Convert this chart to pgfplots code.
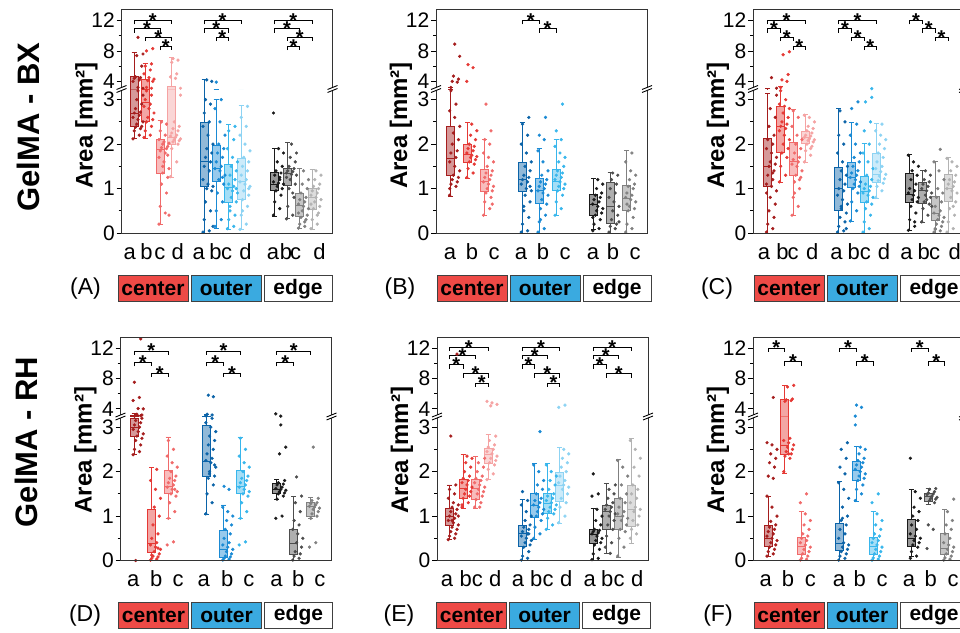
\documentclass[border=0pt]{standalone}
\usepackage{fontspec}
\setmainfont{Liberation Sans}
\usepackage{pgfplots}
\pgfplotsset{compat=1.18}
\usepgfplotslibrary{statistics}

\definecolor{cr1}{HTML}{A51D1D}
\definecolor{cr2}{HTML}{E53935}
\definecolor{cr3}{HTML}{F06A6A}
\definecolor{cr4}{HTML}{F5A3A3}
\definecolor{cb1}{HTML}{0B63A8}
\definecolor{cb2}{HTML}{1A8AD4}
\definecolor{cb3}{HTML}{38B6EC}
\definecolor{cb4}{HTML}{8DD3F3}
\definecolor{cg1}{HTML}{1A1A1A}
\definecolor{cg2}{HTML}{4D4D4D}
\definecolor{cg3}{HTML}{808080}
\definecolor{cg4}{HTML}{B3B3B3}
\definecolor{lred}{HTML}{EE4A46}
\definecolor{lblue}{HTML}{3AAAE0}

\pgfplotsset{
 pts/.style={},
 base/.style={scale only axis, width=211pt, xmin=0, xmax=211,
   axis line style={draw=none}, tick align=outside, ytick pos=left, xtick pos=bottom,
   major tick length=5pt, minor tick length=3pt, tick style={black, line width=0.9pt},
   major x tick style={draw=none},
   ticklabel style={font=\fontsize{21}{21}\selectfont},
   yticklabel style={inner sep=1.5pt},
   xticklabel style={font=\fontsize{22}{22}\selectfont, text height=16pt, inner sep=0pt, yshift=-5pt},
   /pgf/number format/assume math mode=true,
   boxplot/draw direction=y}
}
\tikzset{leg/.style={draw=black!75, line width=1pt, minimum height=26pt, inner sep=0pt,
   font=\bfseries\fontsize{21}{21}\selectfont}}

% box: position, colour, lower whisker, lower quartile, median, upper quartile, upper whisker
\newcommand{\bx}[7]{\addplot[forget plot, draw=#2, fill=#2, fill opacity=0.45, line width=0.8pt,
  boxplot prepared={draw position=#1, lower whisker=#3, lower quartile=#4, median=#5,
  upper quartile=#6, upper whisker=#7, box extend=8, whisker extend=5, draw direction=y}] coordinates {};}
% points beside a box
\newcommand{\pts}[3]{\addplot[forget plot, pts, only marks, mark=*, mark size=1.45pt, color=#2]
  table[header=false, row sep=\\, y index=0, x expr={#1-1+1.25*mod(5*\coordindex,9)}] {#3};}
% significance bracket
\newcommand{\sig}[3]{\draw[line width=0.9pt] (axis cs:#1,{#3-0.5}) -- (axis cs:#1,#3) -- (axis cs:#2,#3) -- (axis cs:#2,{#3-0.5});
  \node[font=\bfseries\fontsize{20}{20}\selectfont, inner sep=0pt] at (axis cs:{(#1+#2)/2},#3) {*};}
% axis break mark
\newcommand{\brk}[2]{\begin{scope}[shift={(#1pt,-#2pt)}]
  \fill[white] (-5pt,-3.5pt) -- (5pt,0.5pt) -- (5pt,3.5pt) -- (-5pt,-0.5pt) -- cycle;
  \draw[line width=0.9pt] (-5pt,-3.5pt) -- (5pt,0.5pt) (-5pt,-0.5pt) -- (5pt,3.5pt);
  \end{scope}}
% panel: x left, y top, data, brackets, tick positions, tick labels
\newcommand{\panel}[6]{%
\pgfmathsetmacro\yb{#2+79.5}%
\pgfmathsetmacro\ybot{#2+223.5}%
\pgfmathsetmacro\xr{#1+211}%
\begin{axis}[base, at={(#1pt,-#2pt)}, anchor=north west, height=79.5pt,
  ymin=3.0, ymax=13.45, ytick={4,8,12}, minor ytick={6,10}, xtick=\empty,
  pts/.style={restrict y to domain=3.02:30}]
#3
#4
\end{axis}
\begin{axis}[base, at={(#1pt,-\yb pt)}, anchor=north west, height=144pt,
  ymin=0, ymax=3.24, ytick={0,1,2,3}, minor ytick={0.5,1.5,2.5},
  xtick={#5}, xticklabels={#6},
  pts/.style={restrict y to domain=-1:3.235}]
#3
\end{axis}
\draw[line width=1pt, black!80] (#1pt,-#2pt) rectangle (\xr pt,-\ybot pt);
\brk{#1}{\yb}\brk{\xr}{\yb}}
% legend row: letter x, legend left x, y centre, letter
\newcommand{\legrow}[4]{%
 \node[font=\fontsize{23}{23}\selectfont] at (#1pt,-#3pt) {(#4)};
 \node[leg, fill=lred, minimum width=70pt] at ({#2pt+35pt},-#3pt) {center};
 \node[leg, fill=lblue, minimum width=70pt] at ({#2pt+108pt},-#3pt) {outer};
 \node[leg, fill=white, minimum width=68pt] at ({#2pt+180pt},-#3pt) {edge};}

%%%%%%%%%%%%%%%% panel A
\def\dataA{%
\bx{12.5}{cr1}{2.12}{2.4}{2.7}{4.67}{7.8}
\pts{12.5}{cr1}{2.12\\2.2\\2.3\\2.35\\2.38\\2.4\\2.45\\2.5\\2.55\\2.6\\2.65\\2.7\\2.72\\2.8\\2.9\\3.0\\3.1\\3.2\\4.0\\4.2\\4.4\\4.5\\4.6\\6.0\\7.4\\7.6\\9.8\\}
\bx{23.5}{cr2}{2.12}{2.51}{2.93}{4.2}{6.4}
\pts{23.5}{cr2}{2.15\\2.2\\2.3\\2.4\\2.5\\2.55\\2.6\\2.7\\2.8\\2.85\\2.9\\3.0\\3.1\\3.2\\4.0\\4.1\\4.3\\4.5\\5.0\\5.5\\6.0\\6.3\\8.0\\8.3\\}
\bx{38.5}{cr3}{0.19}{1.33}{1.89}{2.1}{2.53}
\pts{38.5}{cr3}{0.2\\0.45\\0.6\\0.9\\1.1\\1.25\\1.35\\1.45\\1.6\\1.7\\1.8\\1.85\\1.9\\1.92\\1.95\\2.0\\2.02\\2.05\\2.1\\2.2\\2.3\\2.45\\2.5\\1.75\\1.5\\0.4\\}
\bx{50}{cr4}{1.25}{2.0}{2.15}{3.4}{7.15}
\pts{50}{cr4}{1.27\\1.6\\1.9\\2.0\\2.05\\2.08\\2.1\\2.12\\2.15\\2.18\\2.2\\2.25\\2.3\\2.35\\2.4\\2.5\\3.1\\4.4\\4.6\\5.0\\6.5\\6.8\\7.0\\}
\bx{82.5}{cb1}{0}{1.05}{1.6}{2.48}{4.3}
\pts{82.5}{cb1}{0.02\\0.05\\0.3\\0.5\\0.7\\0.95\\1.0\\1.05\\1.1\\1.2\\1.4\\1.5\\1.6\\1.7\\1.8\\1.9\\2.0\\2.2\\2.4\\2.5\\2.7\\2.9\\3.0\\4.0\\4.2\\0.15\\}
\bx{94.5}{cb2}{0.11}{1.16}{1.46}{1.97}{3.0}
\pts{94.5}{cb2}{0.15\\0.3\\0.5\\0.7\\0.9\\1.1\\1.2\\1.3\\1.4\\1.45\\1.5\\1.6\\1.7\\1.8\\1.9\\2.0\\2.2\\2.5\\2.8\\3.0\\3.9\\1.25\\}
\bx{107}{cb3}{0.08}{0.68}{1.03}{1.55}{2.45}
\pts{107}{cb3}{0.1\\0.15\\0.3\\0.4\\0.6\\0.7\\0.8\\0.9\\0.95\\1.0\\1.05\\1.1\\1.2\\1.3\\1.4\\1.5\\1.6\\1.7\\1.9\\2.1\\2.3\\2.4\\0.5\\1.0\\}
\bx{119.5}{cb4}{0.08}{0.75}{1.15}{1.67}{2.87}
\pts{119.5}{cb4}{0.08\\0.2\\0.4\\0.6\\0.75\\0.85\\0.95\\1.05\\1.1\\1.15\\1.2\\1.3\\1.4\\1.5\\1.6\\1.7\\1.85\\2.0\\2.2\\2.4\\2.6\\2.85\\0.5\\1.0\\}
\bx{153}{cg1}{0.38}{0.95}{1.1}{1.37}{1.9}
\pts{153}{cg1}{0.4\\0.55\\0.7\\0.85\\0.95\\1.0\\1.05\\1.1\\1.12\\1.15\\1.2\\1.3\\1.35\\1.4\\1.5\\1.6\\1.8\\1.9\\2.7\\1.25\\}
\bx{166}{cg2}{0.32}{1.07}{1.35}{1.46}{2.03}
\pts{166}{cg2}{0.32\\0.4\\0.6\\0.8\\1.0\\1.1\\1.2\\1.3\\1.32\\1.35\\1.38\\1.4\\1.45\\1.5\\1.6\\1.7\\1.8\\2.0\\1.25\\0.9\\}
\bx{178}{cg3}{0.11}{0.38}{0.62}{0.9}{1.46}
\pts{178}{cg3}{0.11\\0.15\\0.2\\0.3\\0.35\\0.4\\0.5\\0.55\\0.6\\0.65\\0.7\\0.75\\0.8\\0.9\\1.0\\1.1\\1.2\\1.4\\0.45\\0.25\\}
\bx{190.5}{cg4}{0.09}{0.53}{0.8}{1.01}{1.43}
\pts{190.5}{cg4}{0.1\\0.2\\0.3\\0.45\\0.55\\0.6\\0.7\\0.75\\0.8\\0.85\\0.9\\0.95\\1.0\\1.05\\1.1\\1.2\\1.3\\1.4\\0.65\\0.4\\}
}
\def\sigA{\sig{12.5}{50}{12}\sig{12.5}{38.5}{10.9}\sig{23.5}{50}{9.8}\sig{38.5}{50}{8.6}
\sig{82.5}{119.5}{12}\sig{82.5}{107}{10.9}\sig{94.5}{107}{9.8}
\sig{153}{190.5}{12}\sig{153}{178}{10.9}\sig{166}{190.5}{9.8}\sig{166}{178}{8.6}}

%%%%%%%%%%%%%%%% panel B
\def\dataB{%
\bx{14.7}{cr1}{0.83}{1.3}{1.67}{2.39}{3.23}
\pts{14.7}{cr1}{0.85\\1.05\\1.1\\1.15\\1.2\\1.25\\1.3\\1.4\\1.5\\1.6\\1.7\\1.8\\1.85\\2.0\\2.1\\2.25\\2.4\\2.6\\2.75\\2.9\\3.2\\3.9\\4.0\\4.3\\4.7\\7.3\\8.9\\1.0\\}
\bx{31.8}{cr2}{1.22}{1.58}{1.76}{2.0}{2.48}
\pts{31.8}{cr2}{1.25\\1.35\\1.45\\1.55\\1.6\\1.65\\1.7\\1.72\\1.75\\1.8\\1.85\\1.9\\1.95\\2.0\\2.1\\2.2\\2.3\\2.45\\4.0\\5.8\\6.2\\}
\bx{48.5}{cr3}{0.39}{0.94}{1.16}{1.42}{2.1}
\pts{48.5}{cr3}{0.4\\0.55\\0.7\\0.8\\0.9\\0.95\\1.0\\1.05\\1.1\\1.15\\1.2\\1.25\\1.3\\1.35\\1.4\\1.5\\1.6\\1.7\\1.8\\2.0\\2.1\\2.3\\2.9\\0.65\\}
\bx{86.3}{cb1}{0}{0.94}{1.2}{1.58}{2.48}
\pts{86.3}{cb1}{0.02\\0.05\\0.2\\0.35\\0.5\\0.7\\0.85\\0.95\\1.0\\1.1\\1.15\\1.2\\1.25\\1.3\\1.4\\1.5\\1.6\\1.8\\2.0\\2.2\\2.45\\2.6\\0.6\\1.05\\}
\bx{103}{cb2}{0}{0.66}{0.96}{1.22}{1.9}
\pts{103}{cb2}{0.02\\0.1\\0.25\\0.4\\0.55\\0.65\\0.75\\0.85\\0.9\\0.95\\1.0\\1.05\\1.1\\1.15\\1.2\\1.3\\1.4\\1.6\\1.85\\2.1\\2.2\\2.6\\0.3\\}
\bx{120}{cb3}{0.39}{0.96}{1.16}{1.42}{2.1}
\pts{120}{cb3}{0.4\\0.55\\0.7\\0.85\\0.95\\1.0\\1.05\\1.1\\1.15\\1.2\\1.25\\1.3\\1.35\\1.4\\1.5\\1.6\\1.7\\1.8\\1.95\\2.1\\2.3\\2.9\\}
\bx{157.8}{cg1}{0.07}{0.39}{0.65}{0.86}{1.22}
\pts{157.8}{cg1}{0.05\\0.1\\0.2\\0.3\\0.4\\0.45\\0.5\\0.55\\0.6\\0.65\\0.7\\0.75\\0.8\\0.85\\0.9\\1.0\\1.1\\1.2\\0.35\\}
\bx{174}{cg2}{0}{0.21}{0.6}{1.14}{1.37}
\pts{174}{cg2}{0.02\\0.1\\0.15\\0.2\\0.3\\0.4\\0.5\\0.6\\0.7\\0.8\\0.9\\1.0\\1.1\\1.2\\1.3\\1.35\\0.25\\}
\bx{190.7}{cg3}{0}{0.51}{0.77}{1.07}{1.85}
\pts{190.7}{cg3}{0.02\\0.1\\0.2\\0.35\\0.5\\0.55\\0.6\\0.7\\0.75\\0.8\\0.85\\0.9\\1.0\\1.05\\1.1\\1.2\\1.3\\1.4\\1.6\\1.8\\0.65\\}
}
\def\sigB{\sig{86.3}{103}{12}\sig{103}{120}{10.9}}

%%%%%%%%%%%%%%%% panel C
\def\dataC{%
\bx{14.5}{cr1}{0}{1.04}{1.5}{2.12}{3.13}
\pts{14.5}{cr1}{0.02\\0.1\\0.2\\0.35\\0.5\\0.65\\0.8\\0.95\\1.05\\1.1\\1.2\\1.3\\1.4\\1.5\\1.55\\1.6\\1.7\\1.8\\1.9\\2.0\\2.1\\2.2\\2.4\\2.6\\2.8\\3.1\\4.5\\0.9\\1.35\\}
\bx{27.4}{cr2}{1.14}{1.82}{2.4}{2.84}{3.3}
\pts{27.4}{cr2}{1.15\\1.3\\1.5\\1.7\\1.8\\1.9\\2.0\\2.1\\2.2\\2.3\\2.35\\2.4\\2.45\\2.5\\2.6\\2.7\\2.8\\2.85\\2.9\\3.0\\3.2\\4.0\\4.2\\4.9\\7.5\\7.9\\}
\bx{40}{cr3}{0.39}{1.3}{1.6}{2.04}{2.78}
\pts{40}{cr3}{0.4\\0.6\\0.8\\1.0\\1.15\\1.25\\1.3\\1.4\\1.5\\1.55\\1.6\\1.65\\1.7\\1.8\\1.9\\2.0\\2.1\\2.2\\2.4\\2.6\\2.75\\1.2\\0.9\\}
\bx{52.4}{cr4}{1.59}{2.01}{2.14}{2.29}{2.66}
\pts{52.4}{cr4}{1.6\\1.75\\1.85\\1.95\\2.0\\2.05\\2.08\\2.1\\2.12\\2.15\\2.18\\2.2\\2.25\\2.3\\2.35\\2.4\\2.5\\2.6\\2.65\\1.9\\}
\bx{85.5}{cb1}{0}{0.51}{1.0}{1.48}{2.81}
\pts{85.5}{cb1}{0.02\\0.05\\0.15\\0.25\\0.35\\0.45\\0.55\\0.65\\0.75\\0.85\\0.95\\1.0\\1.1\\1.2\\1.3\\1.4\\1.5\\1.6\\1.8\\2.0\\2.2\\2.5\\2.75\\0.1\\0.6\\}
\bx{98.4}{cb2}{0.26}{1.03}{1.26}{1.59}{2.48}
\pts{98.4}{cb2}{0.27\\0.5\\0.7\\0.9\\1.0\\1.05\\1.1\\1.15\\1.2\\1.25\\1.3\\1.35\\1.4\\1.5\\1.6\\1.7\\1.8\\2.0\\2.2\\2.45\\2.8\\2.95\\}
\bx{111}{cb3}{0}{0.68}{0.94}{1.28}{2.01}
\pts{111}{cb3}{0.02\\0.1\\0.25\\0.4\\0.55\\0.65\\0.7\\0.8\\0.85\\0.9\\0.95\\1.0\\1.05\\1.1\\1.2\\1.3\\1.45\\1.6\\1.8\\2.0\\2.3\\2.5\\2.95\\3.05\\}
\bx{123.7}{cb4}{0.77}{1.14}{1.31}{1.78}{2.46}
\pts{123.7}{cb4}{0.8\\0.95\\1.05\\1.12\\1.18\\1.22\\1.28\\1.32\\1.38\\1.45\\1.5\\1.6\\1.7\\1.8\\1.9\\2.0\\2.1\\2.2\\2.3\\2.45\\}
\bx{156.4}{cg1}{0.06}{0.68}{0.86}{1.34}{1.76}
\pts{156.4}{cg1}{0.06\\0.15\\0.3\\0.45\\0.6\\0.7\\0.75\\0.8\\0.85\\0.9\\0.95\\1.0\\1.1\\1.2\\1.3\\1.4\\1.5\\1.6\\1.75\\0.25\\}
\bx{169.7}{cg2}{0.24}{0.66}{0.95}{1.13}{1.41}
\pts{169.7}{cg2}{0.25\\0.4\\0.55\\0.65\\0.7\\0.8\\0.85\\0.9\\0.95\\1.0\\1.05\\1.1\\1.15\\1.2\\1.3\\1.4\\0.6\\0.75\\}
\bx{182}{cg3}{0}{0.28}{0.43}{0.83}{1.61}
\pts{182}{cg3}{0.02\\0.05\\0.1\\0.15\\0.2\\0.25\\0.3\\0.35\\0.4\\0.45\\0.5\\0.6\\0.7\\0.8\\0.9\\1.0\\1.2\\1.4\\1.6\\1.88\\0.08\\}
\bx{195}{cg4}{0}{0.7}{1.0}{1.31}{1.69}
\pts{195}{cg4}{0.02\\0.1\\0.25\\0.4\\0.55\\0.7\\0.8\\0.9\\0.95\\1.0\\1.05\\1.1\\1.15\\1.2\\1.3\\1.4\\1.5\\1.6\\1.68\\0.6\\}
}
\def\sigC{\sig{14.5}{52.4}{12}\sig{14.5}{27.4}{10.9}\sig{27.4}{40}{9.8}\sig{40}{52.4}{8.6}
\sig{85.5}{123.7}{12}\sig{85.5}{98.4}{10.9}\sig{98.4}{111}{9.8}\sig{111}{123.7}{8.6}
\sig{156.4}{169.7}{12}\sig{169.7}{182}{10.9}\sig{182}{195}{9.8}}

%%%%%%%%%%%%%%%% panel D
\def\dataD{%
\bx{13.7}{cr1}{2.38}{2.8}{3.0}{3.19}{3.35}
\pts{13.7}{cr1}{2.38\\2.45\\2.5\\2.6\\2.7\\2.75\\2.8\\2.85\\2.9\\2.95\\3.0\\3.05\\3.1\\3.15\\3.2\\3.3\\4.0\\4.05\\5.1\\5.5\\7.5\\13.2\\0.0\\}
\bx{31}{cr2}{0}{0.18}{0.39}{1.16}{2.09}
\pts{31}{cr2}{0.01\\0.03\\0.05\\0.08\\0.1\\0.15\\0.2\\0.25\\0.3\\0.35\\0.4\\0.5\\0.6\\0.8\\1.0\\1.2\\1.4\\1.6\\1.8\\2.05\\0.12\\0.28\\}
\bx{47.7}{cr3}{0.94}{1.52}{1.67}{2.03}{2.78}
\pts{47.7}{cr3}{0.35\\0.42\\0.95\\1.1\\1.3\\1.45\\1.5\\1.55\\1.6\\1.65\\1.7\\1.75\\1.8\\1.85\\1.9\\2.0\\2.1\\2.2\\2.35\\2.5\\2.7\\1.6\\}
\bx{86.3}{cb1}{1.03}{1.89}{2.23}{3.03}{3.3}
\pts{86.3}{cb1}{1.05\\1.3\\1.5\\1.7\\1.85\\1.9\\2.0\\2.1\\2.2\\2.25\\2.3\\2.4\\2.5\\2.6\\2.7\\2.8\\2.9\\3.0\\3.1\\3.2\\3.3\\5.6\\5.8\\2.15\\1.95\\}
\bx{103.3}{cb2}{0}{0.075}{0.26}{0.68}{1.25}
\pts{103.3}{cb2}{0.01\\0.03\\0.05\\0.08\\0.1\\0.15\\0.2\\0.25\\0.3\\0.35\\0.4\\0.5\\0.6\\0.7\\0.8\\0.9\\1.0\\1.1\\1.2\\1.6\\1.67\\}
\bx{119.7}{cb3}{0.94}{1.52}{1.67}{2.03}{2.78}
\pts{119.7}{cb3}{0.35\\0.42\\0.95\\1.1\\1.3\\1.45\\1.5\\1.55\\1.6\\1.65\\1.7\\1.75\\1.8\\1.85\\1.9\\2.0\\2.1\\2.2\\2.35\\2.5\\2.75\\}
\bx{156.3}{cg1}{1.37}{1.5}{1.6}{1.74}{1.83}
\pts{156.3}{cg1}{0.95\\1.0\\1.38\\1.45\\1.5\\1.52\\1.55\\1.58\\1.6\\1.62\\1.65\\1.7\\1.72\\1.75\\1.8\\2.4\\2.55\\3.05\\3.35\\}
\bx{173.3}{cg2}{0}{0.13}{0.38}{0.71}{1.44}
\pts{173.3}{cg2}{0.01\\0.05\\0.1\\0.15\\0.2\\0.3\\0.4\\0.5\\0.6\\0.7\\0.8\\0.9\\1.1\\1.3\\1.45\\1.88\\}
\bx{190}{cg3}{0.95}{1.0}{1.21}{1.3}{1.42}
\pts{190}{cg3}{0.3\\0.4\\0.95\\1.0\\1.05\\1.1\\1.15\\1.18\\1.2\\1.22\\1.25\\1.28\\1.3\\1.35\\1.4\\2.55\\}
}
\def\sigD{\sig{13.7}{47.7}{11.6}\sig{13.7}{31}{10.1}\sig{31}{47.7}{8.7}
\sig{86.3}{119.7}{11.6}\sig{86.3}{103.3}{10.1}\sig{103.3}{119.7}{8.7}
\sig{156.3}{190}{11.6}\sig{156.3}{173.3}{10.1}}

%%%%%%%%%%%%%%%% panel E
\def\dataE{%
\bx{12.3}{cr1}{0.47}{0.78}{1.0}{1.18}{1.7}
\pts{12.3}{cr1}{0.47\\0.5\\0.55\\0.6\\0.65\\0.7\\0.75\\0.8\\0.85\\0.9\\0.95\\1.0\\1.05\\1.1\\1.15\\1.2\\1.25\\1.3\\1.4\\1.5\\1.6\\1.7\\2.8\\11.2\\0.9\\1.0\\}
\bx{26}{cr2}{1.18}{1.4}{1.63}{1.83}{2.38}
\pts{26}{cr2}{1.2\\1.3\\1.4\\1.45\\1.5\\1.55\\1.6\\1.65\\1.7\\1.75\\1.8\\1.85\\1.9\\2.0\\2.1\\2.2\\2.3\\2.35\\1.25\\}
\bx{38.7}{cr3}{1.18}{1.37}{1.63}{1.82}{2.34}
\pts{38.7}{cr3}{1.2\\1.3\\1.37\\1.45\\1.5\\1.55\\1.6\\1.65\\1.7\\1.75\\1.8\\1.85\\1.9\\2.0\\2.1\\2.2\\2.3\\1.2\\}
\bx{51}{cr4}{1.82}{2.19}{2.38}{2.53}{2.83}
\pts{51}{cr4}{1.82\\1.95\\2.05\\2.15\\2.2\\2.25\\2.3\\2.35\\2.4\\2.45\\2.5\\2.55\\2.6\\2.7\\2.8\\4.4\\4.6\\4.8\\5.0\\}
\bx{85.3}{cb1}{0}{0.32}{0.62}{0.8}{1.37}
\pts{85.3}{cb1}{0.01\\0.05\\0.1\\0.2\\0.3\\0.35\\0.4\\0.45\\0.5\\0.55\\0.6\\0.65\\0.7\\0.75\\0.8\\0.9\\1.0\\1.1\\1.25\\1.35\\1.55\\0.6\\}
\bx{97.7}{cb2}{0.47}{0.97}{1.25}{1.52}{2.19}
\pts{97.7}{cb2}{0.5\\0.6\\0.75\\0.9\\1.0\\1.05\\1.1\\1.15\\1.2\\1.25\\1.3\\1.35\\1.4\\1.5\\1.6\\1.7\\1.8\\2.0\\2.15\\2.9\\}
\bx{110.3}{cb3}{0.69}{1.07}{1.29}{1.52}{2.18}
\pts{110.3}{cb3}{0.7\\0.8\\0.95\\1.05\\1.1\\1.15\\1.2\\1.25\\1.3\\1.35\\1.4\\1.45\\1.5\\1.6\\1.7\\1.8\\1.9\\2.0\\2.15\\}
\bx{122.7}{cb4}{0.84}{1.33}{1.68}{1.98}{2.55}
\pts{122.7}{cb4}{0.85\\1.0\\1.2\\1.3\\1.4\\1.5\\1.6\\1.65\\1.7\\1.75\\1.8\\1.9\\2.0\\2.1\\2.2\\2.3\\2.4\\2.5\\4.2\\4.5\\}
\bx{156}{cg1}{0}{0.39}{0.58}{0.69}{1.18}
\pts{156}{cg1}{0.02\\0.05\\0.15\\0.25\\0.35\\0.4\\0.45\\0.5\\0.55\\0.6\\0.62\\0.65\\0.68\\0.7\\0.8\\0.9\\1.0\\1.15\\1.45\\1.5\\1.95\\}
\bx{169.3}{cg2}{0.16}{0.69}{1.1}{1.25}{1.74}
\pts{169.3}{cg2}{0.3\\0.4\\0.55\\0.7\\0.8\\0.9\\1.0\\1.05\\1.1\\1.15\\1.2\\1.25\\1.3\\1.4\\1.5\\1.6\\1.7\\0.16\\}
\bx{181.7}{cg3}{0.08}{0.69}{0.99}{1.4}{2.27}
\pts{181.7}{cg3}{0.1\\0.3\\0.5\\0.65\\0.7\\0.8\\0.9\\0.95\\1.0\\1.05\\1.1\\1.2\\1.3\\1.4\\1.5\\1.7\\1.9\\2.1\\2.25\\}
\bx{194.3}{cg4}{0.39}{0.77}{1.14}{1.7}{2.75}
\pts{194.3}{cg4}{0.5\\0.6\\0.7\\0.8\\0.9\\1.0\\1.1\\1.15\\1.2\\1.3\\1.4\\1.5\\1.6\\1.7\\1.9\\2.1\\2.3\\2.5\\2.7\\}
}
\def\sigE{\sig{12.3}{51}{12.1}\sig{12.3}{38.7}{11.0}\sig{12.3}{26}{9.8}\sig{26}{51}{8.6}\sig{38.7}{51}{7.4}
\sig{85.3}{122.7}{12.1}\sig{85.3}{110.3}{11.0}\sig{85.3}{97.7}{9.8}\sig{97.7}{122.7}{8.6}\sig{110.3}{122.7}{7.4}
\sig{156}{194.3}{12.1}\sig{156}{181.7}{11.0}\sig{156}{169.3}{9.8}\sig{169.3}{194.3}{8.6}}

%%%%%%%%%%%%%%%% panel F
\def\dataF{%
\bx{15}{cr1}{0.09}{0.32}{0.5}{0.78}{1.45}
\pts{15}{cr1}{0.1\\0.15\\0.2\\0.25\\0.3\\0.35\\0.4\\0.45\\0.5\\0.55\\0.6\\0.65\\0.7\\0.75\\0.8\\0.88\\1.0\\1.2\\1.45\\1.85\\1.9\\2.1\\2.2\\2.3\\2.4\\2.5\\2.6\\2.65\\5.5\\}
\bx{31.7}{cr2}{1.97}{2.38}{2.6}{5.2}{7.1}
\pts{31.7}{cr2}{2.0\\2.3\\2.35\\2.4\\2.45\\2.5\\2.55\\2.6\\2.65\\2.7\\2.75\\5.0\\5.1\\5.2\\5.3\\6.9\\7.1\\2.4\\}
\bx{48.3}{cr3}{0}{0.13}{0.32}{0.53}{1.1}
\pts{48.3}{cr3}{0.01\\0.03\\0.05\\0.1\\0.15\\0.2\\0.25\\0.3\\0.35\\0.4\\0.45\\0.5\\0.55\\0.6\\0.7\\0.8\\0.9\\1.05\\1.3\\1.5\\}
\bx{86.7}{cb1}{0}{0.22}{0.38}{0.84}{1.78}
\pts{86.7}{cb1}{0.01\\0.05\\0.1\\0.15\\0.2\\0.25\\0.3\\0.35\\0.4\\0.5\\0.6\\0.7\\0.8\\0.9\\1.0\\1.2\\1.4\\1.6\\1.75\\1.95\\2.1\\2.3\\2.5\\2.65\\0.95\\}
\bx{103.3}{cb2}{1.33}{1.8}{2.03}{2.23}{2.57}
\pts{103.3}{cb2}{1.35\\1.5\\1.6\\1.7\\1.8\\1.85\\1.9\\1.95\\2.0\\2.05\\2.1\\2.15\\2.2\\2.25\\2.3\\2.4\\2.5\\2.55\\3.05\\4.2\\4.5\\}
\bx{120}{cb3}{0}{0.13}{0.32}{0.53}{1.1}
\pts{120}{cb3}{0.01\\0.03\\0.06\\0.1\\0.15\\0.2\\0.25\\0.3\\0.35\\0.4\\0.45\\0.5\\0.55\\0.6\\0.7\\0.8\\0.9\\1.05\\1.3\\1.5\\}
\bx{158.3}{cg1}{0.09}{0.32}{0.5}{0.93}{1.59}
\pts{158.3}{cg1}{0.05\\0.1\\0.2\\0.3\\0.35\\0.4\\0.45\\0.5\\0.55\\0.6\\0.7\\0.8\\0.9\\1.0\\1.1\\1.2\\1.4\\1.55\\2.3\\}
\bx{175}{cg2}{1.27}{1.33}{1.44}{1.5}{1.62}
\pts{175}{cg2}{0.27\\0.7\\0.8\\1.3\\1.35\\1.38\\1.4\\1.42\\1.45\\1.48\\1.5\\1.52\\1.55\\1.6\\1.62\\}
\bx{191.7}{cg3}{0}{0.13}{0.28}{0.6}{1.14}
\pts{191.7}{cg3}{0.01\\0.03\\0.06\\0.1\\0.15\\0.2\\0.25\\0.3\\0.35\\0.4\\0.5\\0.6\\0.7\\0.8\\0.9\\1.1\\1.38\\}
}
\def\sigF{\sig{15}{31.7}{12}\sig{31.7}{48.3}{10.2}
\sig{86.7}{103.3}{12}\sig{103.3}{120}{10.2}
\sig{158.3}{175}{12}\sig{175}{191.7}{10.2}}

\begin{document}
\begin{tikzpicture}
\useasboundingbox (0pt,0pt) rectangle (960pt,-632pt);
\clip (0pt,0pt) rectangle (960pt,-632pt);

\panel{121.5}{9.5}{\dataA}{\sigA}{8.3,25,38.3,56.3,77.3,94,105,124,151.6,164.6,174,198}{a,b,c,d,a,b,c,d,a,b,c,d}
\panel{436}{9.5}{\dataB}{\sigB}{14,36,58,85,107,129,157,177,199}{a,b,c,a,b,c,a,b,c}
\panel{753}{9.5}{\dataC}{\sigC}{11,29.4,40,59.3,83.4,100.7,112.4,131,153.4,170.7,181.7,201.7}{a,b,c,d,a,b,c,d,a,b,c,d}
\panel{120.5}{337}{\dataD}{\sigD}{12.7,35.7,57.7,83.3,106.7,128.3,156,177.7,199.3}{a,b,c,a,b,c,a,b,c}
\panel{437}{337}{\dataE}{\sigE}{10,28.7,40.3,58.3,81,99.3,111,129.3,152.7,170.3,182,200.3}{a,b,c,d,a,b,c,d,a,b,c,d}
\panel{753}{337}{\dataF}{\sigF}{12.7,35,57.3,86,106.7,129,156,177.7,200}{a,b,c,a,b,c,a,b,c}

\foreach \xa in {86.5,401,718} {\node[rotate=90, font=\bfseries\fontsize{24}{24}\selectfont] at (\xa pt,-125.5pt) {Area [mm²]};}
\foreach \xa in {85.5,402,718} {\node[rotate=90, font=\bfseries\fontsize{24}{24}\selectfont] at (\xa pt,-450pt) {Area [mm²]};}
\node[rotate=90, font=\bfseries\fontsize{31}{31}\selectfont] at (28pt,-127pt) {GelMA - BX};
\node[rotate=90, font=\bfseries\fontsize{31}{31}\selectfont] at (26pt,-442pt) {GelMA - RH};

\legrow{85.5}{118}{288.7}{A}
\legrow{400}{437}{288.7}{B}
\legrow{717}{754}{288.7}{C}
\legrow{85}{118.5}{615.5}{D}
\legrow{399}{436.5}{615.5}{E}
\legrow{718}{754}{615.5}{F}
\end{tikzpicture}
\end{document}
